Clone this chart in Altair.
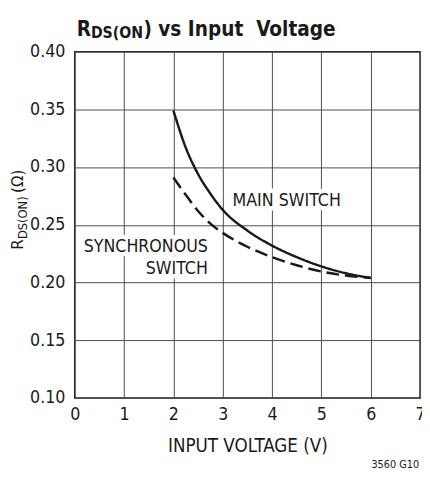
import altair as alt
import pandas as pd

FONT = "Liberation Sans Narrow, Arial Narrow, DejaVu Sans Condensed, sans-serif"
INK = "#1a1a1a"

# ---- data ----
volts = [2.0, 2.25, 2.5, 2.75, 3.0, 3.5, 4.0, 4.5, 5.0, 5.5, 6.0]
main_r = [0.349, 0.317, 0.294, 0.277, 0.263, 0.245, 0.232, 0.222, 0.214, 0.208, 0.204]
sync_r = [0.291, 0.276, 0.262, 0.251, 0.243, 0.231, 0.222, 0.215, 0.2095, 0.206, 0.204]
series = ["MAIN SWITCH", "SYNCHRONOUS SWITCH"]

x_ticks = [0, 1, 2, 3, 4, 5, 6, 7]
y_ticks = [0.10, 0.15, 0.20, 0.25, 0.30, 0.35, 0.40]

# annotation labels (text, anchor in data units)
left_labels = ["MAIN SWITCH"]
left_lx = [3.20]
left_ly = [0.2666]
right_labels = ["SYNCHRONOUS", "SWITCH"]
right_lx = [2.70, 2.70]
right_ly = [0.2266, 0.2070]

df = pd.DataFrame({
    "volts": volts * 2,
    "r": main_r + sync_r,
    "switch": [series[0]] * len(volts) + [series[1]] * len(volts),
})
left_df = pd.DataFrame({"label": left_labels, "lx": left_lx, "ly": left_ly})
right_df = pd.DataFrame({"label": right_labels, "lx": right_lx, "ly": right_ly})

xscale = alt.Scale(domain=[0, 7], nice=False, zero=False)
yscale = alt.Scale(domain=[0.10, 0.40], nice=False, zero=False)

xaxis = alt.Axis(values=x_ticks, format="d", title="INPUT VOLTAGE (V)",
                 labelFont=FONT, labelFontSize=18, labelColor=INK, labelPadding=8,
                 labelFlush=False, ticks=False, domain=False,
                 grid=True, gridColor="#4d4d4d", gridWidth=1,
                 titleFont=FONT, titleFontSize=19, titleFontWeight="normal",
                 titleColor=INK, titleY=55, titleBaseline="alphabetic")
yaxis = alt.Axis(values=y_ticks, format=".2f", title=None,
                 labelFont=FONT, labelFontSize=18, labelColor=INK, labelPadding=10,
                 labelFlush=False, ticks=False, domain=False,
                 grid=True, gridColor="#4d4d4d", gridWidth=1)

lines = alt.Chart(df).mark_line(color=INK, strokeWidth=2.5, interpolate="monotone").encode(
    x=alt.X("volts:Q", scale=xscale, axis=xaxis),
    y=alt.Y("r:Q", scale=yscale, axis=yaxis),
    strokeDash=alt.StrokeDash("switch:N", scale=alt.Scale(domain=series, range=[[1, 0], [13, 6]]), legend=None),
    detail="switch:N",
)

def label_layers(data, align):
    enc = dict(x=alt.X("lx:Q", scale=xscale), y=alt.Y("ly:Q", scale=yscale), text="label:N")
    halo = alt.Chart(data).mark_text(align=align, baseline="alphabetic", font=FONT, fontSize=18,
                                     stroke="white", strokeWidth=9, fill="white",
                                     strokeJoin="round").encode(**enc)
    txt = alt.Chart(data).mark_text(align=align, baseline="alphabetic", font=FONT, fontSize=18,
                                    color=INK).encode(**enc)
    return [halo, txt]

def pix_text(s, x, y, size, weight="normal", angle=0, align="left"):
    d = pd.DataFrame({"t": [s]})
    kw = dict(align=align, baseline="alphabetic", font=FONT, fontSize=size, fontWeight=weight, color=INK)
    if angle:
        kw["angle"] = angle
    return alt.Chart(d).mark_text(**kw).encode(x=alt.value(x), y=alt.value(y), text="t:N")

title_parts = [
    pix_text("R", 2, -16, 21, "bold"),
    pix_text("DS(ON", 16.5, -13.5, 16, "bold"),
    pix_text(")\u00a0vs Input\u00a0 Voltage", 70, -16, 21, "bold"),
]
ytitle_parts = [
    pix_text("R", -52.5, 202, 17, angle=270),
    pix_text("DS(ON)", -49, 191, 13, angle=270),
    pix_text("(\u03a9)", -52.5, 144, 17, angle=270),
]
footer = [pix_text("3560 G10", 351, 424, 11, align="right")]

chart = alt.layer(
    lines,
    *label_layers(left_df, "left"),
    *label_layers(right_df, "right"),
    *title_parts, *ytitle_parts, *footer,
).properties(
    width=352, height=353,
    autosize=alt.AutoSizeParams(type="none"),
    padding={"left": 68, "top": 40, "right": 2, "bottom": 72},
).configure_view(stroke="#222222", strokeWidth=1.5)

chart.save("out.html", embed_options={"renderer": "svg", "actions": False})
